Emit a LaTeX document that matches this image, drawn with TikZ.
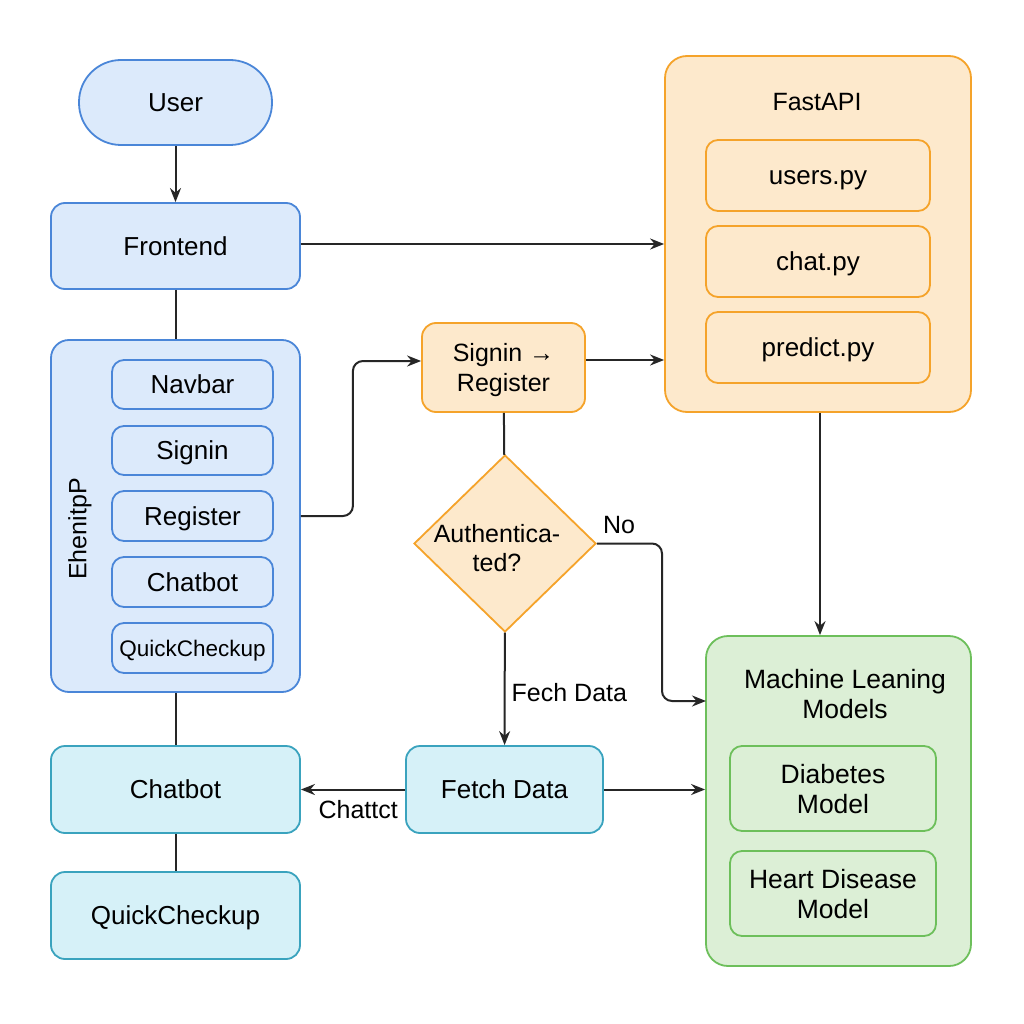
\documentclass[tikz,border=0pt]{standalone}
\usepackage{fontspec}
\setmainfont{Liberation Sans}
\usetikzlibrary{shapes.geometric,arrows.meta}
\definecolor{bfill}{HTML}{DCEAFB}
\definecolor{bline}{HTML}{4A86D8}
\definecolor{ofill}{HTML}{FDE9CC}
\definecolor{oline}{HTML}{F5A32A}
\definecolor{cfill}{HTML}{D6F1F8}
\definecolor{cline}{HTML}{3AA3BE}
\definecolor{gfill}{HTML}{DCEFD6}
\definecolor{gline}{HTML}{6DBF5B}
\tikzset{
  box/.style={draw, line width=1.8pt, rounded corners=14pt, inner sep=0pt, align=center, text depth=0pt, font=\fontsize{26}{30}\selectfont},
  one/.style={text height=18.6pt},
  bluebox/.style={box, fill=bfill, draw=bline},
  orbox/.style={box, fill=ofill, draw=oline},
  cybox/.style={box, fill=cfill, draw=cline},
  grbox/.style={box, fill=gfill, draw=gline},
  sub/.style={font=\fontsize{26}{30}\selectfont, rounded corners=12pt},
  conn/.style={line width=2pt, draw=black!85},
  arr/.style={conn, -{Stealth[length=14pt,width=11pt]}},
  lbl/.style={font=\fontsize{25}{30}\selectfont, inner sep=0pt},
  ttl/.style={align=center, inner sep=0pt, text depth=0pt}
}
\begin{document}
\begin{tikzpicture}[x=1pt,y=-1pt]
\useasboundingbox[fill=white] (0,0) rectangle (1024,1024);
% left column
\node[bluebox, one, rounded corners=42pt, minimum width=193pt, minimum height=85pt] (user) at (175.5,102.5) {User};
\node[bluebox, one, minimum width=249pt, minimum height=86pt] (front) at (175.5,246) {Frontend};
\node[bluebox, rounded corners=18pt, minimum width=249pt, minimum height=352pt] (app) at (175.5,516) {};
\node[bluebox, one, sub, minimum width=161pt, minimum height=49pt] (nav) at (192.5,384.5) {Navbar};
\node[bluebox, one, sub, minimum width=161pt, minimum height=49pt] (sgn) at (192.5,450.5) {Signin};
\node[bluebox, one, sub, minimum width=161pt, minimum height=50pt] (reg) at (192.5,516) {Register};
\node[bluebox, one, sub, minimum width=161pt, minimum height=50pt] (cbt) at (192.5,582) {Chatbot};
\node[bluebox, sub, font=\fontsize{22.5}{26}\selectfont, text height=16pt, minimum width=161pt, minimum height=50pt] (qck) at (192.5,648) {QuickCheckup};
\node[font=\fontsize{25}{30}\selectfont, rotate=90, inner sep=0pt] (applbl) at (80,529) {EhenitpP};
\node[cybox, one, minimum width=249pt, minimum height=87pt] (chat) at (175.5,789.5) {Chatbot};
\node[cybox, one, minimum width=249pt, minimum height=87pt] (quick) at (175.5,915.5) {QuickCheckup};
% middle
\node[orbox, font=\fontsize{25}{30}\selectfont, minimum width=163pt, minimum height=89pt] (sr) at (503.5,367.5) {Signin \char"2192\\Register};
\node[diamond, draw=oline, fill=ofill, line width=1.8pt, minimum width=182pt, minimum height=177pt, inner sep=0pt] (auth) at (505,543.5) {};
\node[ttl, font=\fontsize{25}{29}\selectfont] (authtxt) at (497,547.5) {Authentica-\\ted?};
\node[cybox, one, minimum width=197pt, minimum height=87pt] (fetch) at (504.5,789.5) {Fetch Data};
% right
\node[orbox, rounded corners=22pt, minimum width=306pt, minimum height=356pt] (api) at (818,234) {};
\node[ttl, text height=18pt, font=\fontsize{25}{30}\selectfont] (apit) at (817,102) {FastAPI};
\node[orbox, one, sub, minimum width=224pt, minimum height=71pt] (users) at (818,175.5) {users.py};
\node[orbox, one, sub, minimum width=224pt, minimum height=71pt] (chatpy) at (818,261.5) {chat.py};
\node[orbox, one, sub, minimum width=224pt, minimum height=71pt] (pred) at (818,347.5) {predict.py};
\node[grbox, rounded corners=22pt, minimum width=265pt, minimum height=330pt] (ml) at (838.5,801) {};
\node[ttl, font=\fontsize{26.5}{30}\selectfont] (mlt) at (845,694) {Machine Leaning\\Models};
\node[grbox, sub, font=\fontsize{26.5}{30}\selectfont, minimum width=206pt, minimum height=85pt] (dia) at (833,788.5) {Diabetes\\Model};
\node[grbox, sub, font=\fontsize{26.5}{30}\selectfont, minimum width=206pt, minimum height=85pt] (heart) at (833,893.5) {Heart Disease\\Model};
% connectors
\draw[arr] (user) -- (front);
\draw[conn] (front) -- (app);
\draw[conn] (app) -- (chat);
\draw[conn] (chat) -- (quick);
\draw[arr] ([yshift=2pt]front.east) -- ([yshift=2pt]front.east -| api.west);
\draw[arr, rounded corners=10pt] (app.east) -- ++(52,0) |- ([yshift=6.5pt]sr.west);
\draw[arr] ([yshift=7.5pt]sr.east) -- ([yshift=7.5pt]sr.east -| api.west);
\draw[conn] (sr) -- (auth);
\draw[arr, rounded corners=10pt] (auth.east) -- (662,543.5) |- (706,701);
\node[lbl] (no) at (619,525) {No};
\draw[arr] (auth) -- (fetch) node[lbl, pos=0.53, right=6pt] {Fech Data};
\draw[arr] (fetch) -- (chat) node[lbl, pos=0.45, below=10pt] {Chattct};
\draw[arr] (fetch.east) -- (fetch.east -| ml.west);
\draw[arr] (api.south -| 820,0) -- (ml.north -| 820,0);
\end{tikzpicture}
\end{document}
